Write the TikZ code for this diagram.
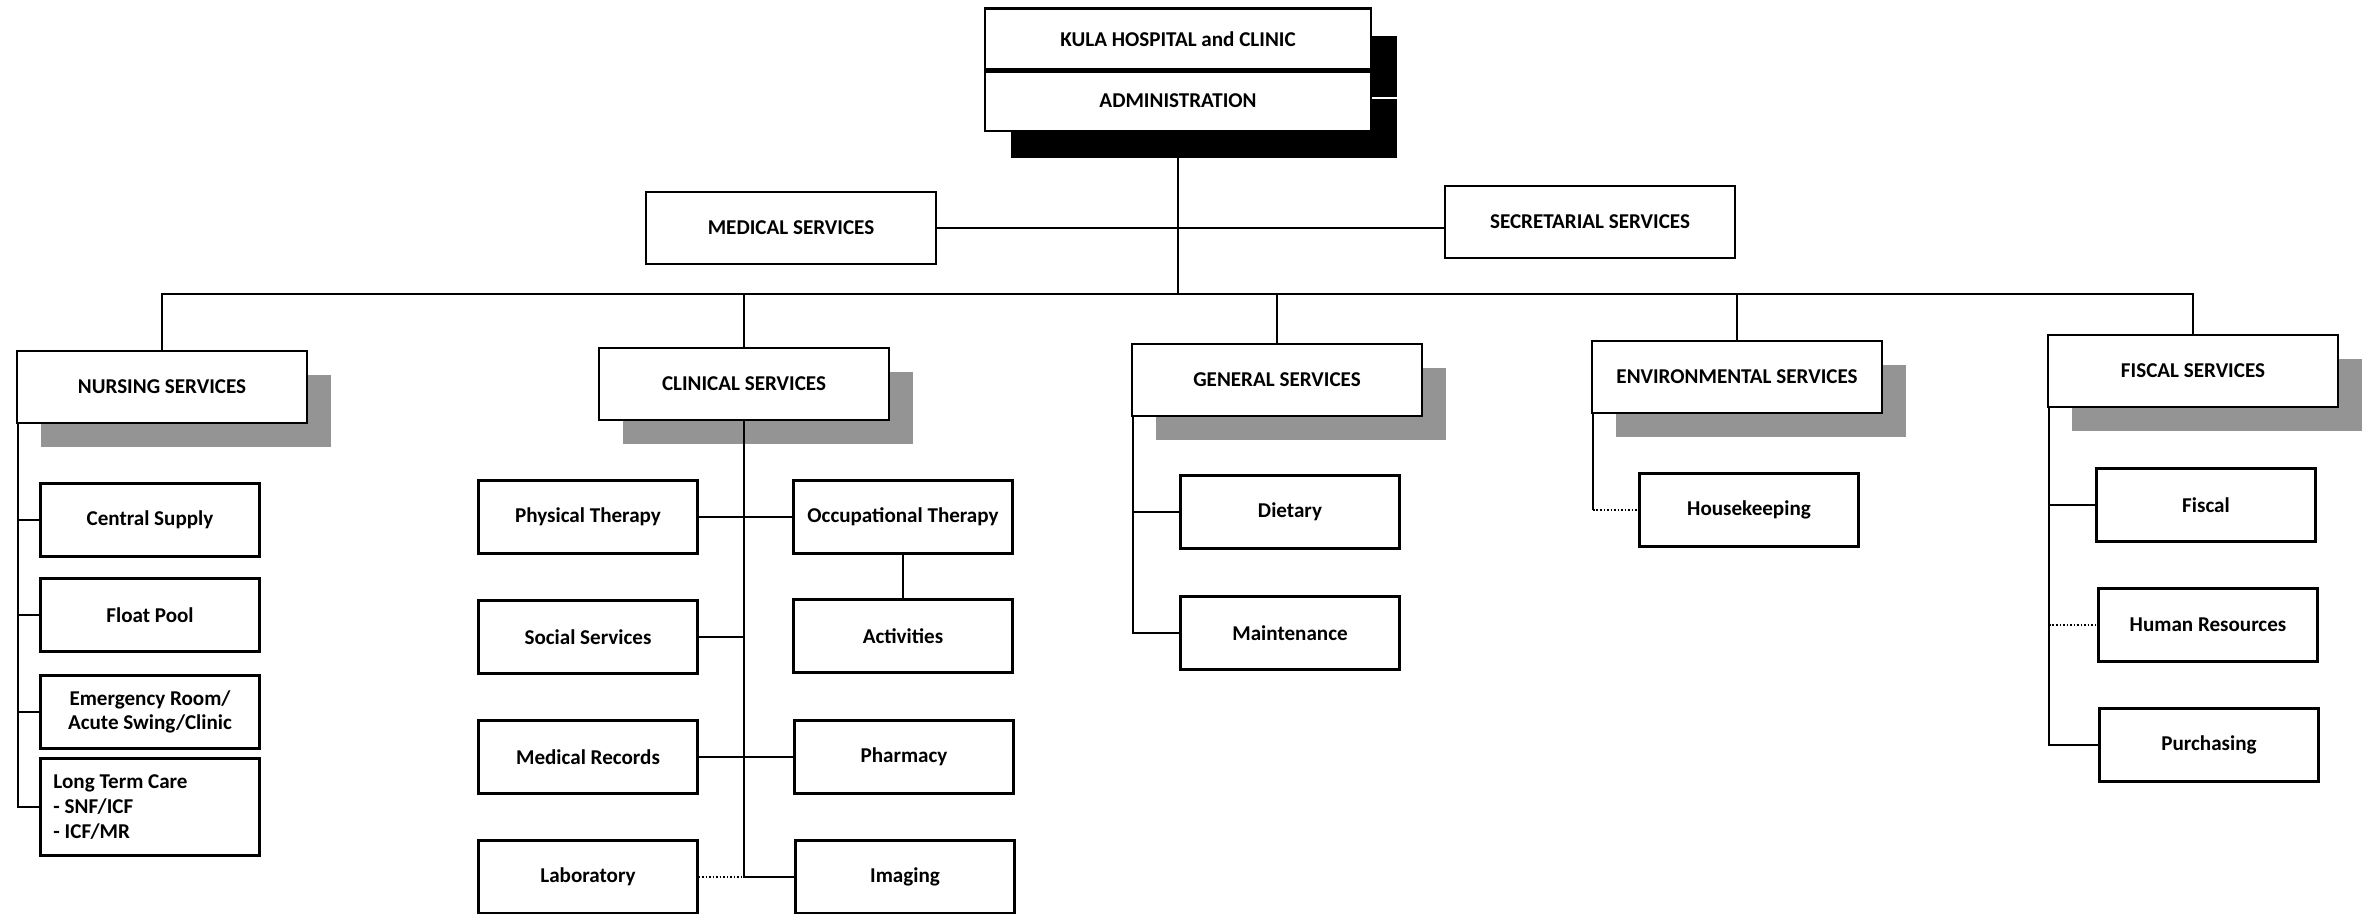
\documentclass[tikz,border=0pt]{standalone}
\usepackage{fontspec}
\setmainfont{Carlito}
\usetikzlibrary{positioning,shadows}

\tikzset{
  box/.style={draw,line width=1.2pt,fill=white,align=center,inner sep=2pt,
    font=\bfseries\fontsize{12}{14}\selectfont},
  headbox/.style={box,minimum width=77.2mm,minimum height=12.2mm,
    general shadow={fill=black,shadow xshift=5.2mm,shadow yshift=-5.4mm}},
  topbox/.style={box,minimum width=58mm,minimum height=14.4mm},
  deptbox/.style={topbox,
    general shadow={fill=black!42,shadow xshift=4.8mm,shadow yshift=-4.8mm}},
  unitbox/.style={box,minimum width=43.8mm,minimum height=14.6mm},
  link/.style={line width=1pt},
  dotlink/.style={line width=1pt,densely dotted}
}

\begin{document}
\begin{tikzpicture}[x=0.2mm,y=-0.2mm]
  \path[use as bounding box,fill=white] (0,0) rectangle (2368,913);

  \node[headbox] (hosp) at (1178,39) {KULA HOSPITAL and CLINIC};
  \node[headbox,minimum height=11.8mm,below=0pt of hosp] (admin) {ADMINISTRATION};

  \node[topbox] (medical) at (791,228) {MEDICAL SERVICES};
  \node[topbox] (secretarial) at (1590,222) {SECRETARIAL SERVICES};
  \coordinate (bus) at (1178,294);

  \node[deptbox] (nursing) at (162,387) {NURSING SERVICES};
  \node[deptbox] (clinical) at (744,384) {CLINICAL SERVICES};
  \node[deptbox] (general) at (1277,380) {GENERAL SERVICES};
  \node[deptbox] (environmental) at (1737,377) {ENVIRONMENTAL SERVICES};
  \node[deptbox] (fiscal) at (2193,371) {FISCAL SERVICES};

  \node[unitbox] (centralsupply) at (150,520) {Central Supply};
  \node[unitbox] (floatpool) at (150,615) {Float Pool};
  \node[unitbox] (emergency) at (150,712) {Emergency Room/\\Acute Swing/Clinic};
  \node[unitbox,minimum height=19.4mm,inner xsep=2.6mm,text width=38.6mm,align=flush left]
    (longterm) at (150,807) {Long Term Care\\- SNF/ICF\\- ICF/MR};

  \node[unitbox] (physical) at (588,517) {Physical Therapy};
  \node[unitbox] (occupational) at (903,517) {Occupational Therapy};
  \node[unitbox] (social) at (588,637) {Social Services};
  \node[unitbox] (activities) at (903,636) {Activities};
  \node[unitbox] (records) at (588,757) {Medical Records};
  \node[unitbox] (pharmacy) at (904,757) {Pharmacy};
  \node[unitbox] (laboratory) at (588,877) {Laboratory};
  \node[unitbox] (imaging) at (905,877) {Imaging};

  \node[unitbox] (dietary) at (1290,512) {Dietary};
  \node[unitbox] (maintenance) at (1290,633) {Maintenance};
  \node[unitbox] (housekeeping) at (1749,510) {Housekeeping};
  \node[unitbox] (fiscalunit) at (2206,505) {Fiscal};
  \node[unitbox] (humanres) at (2208,625) {Human Resources};
  \node[unitbox] (purchasing) at (2209,745) {Purchasing};

  \draw[link] (admin.south) -- (bus);
  \draw[link] (medical.east) -- (medical.east -| secretarial.west);
  \draw[link] (nursing.north) -- (nursing.north |- bus) -| (fiscal.north);
  \foreach \d in {clinical,general,environmental}
    \draw[link] (\d.north) -- (\d.north |- bus);

  \coordinate (nspine) at ([xshift=0.4mm]nursing.south west);
  \draw[link] (nspine) |- (longterm.west);
  \foreach \u in {centralsupply,floatpool,emergency}
    \draw[link] (nspine |- \u.west) -- (\u.west);

  \draw[link] (clinical.south) -- (clinical.south |- imaging.west) -- (imaging.west);
  \draw[link] (physical.east) -- (occupational.west);
  \draw[link] (occupational.south) -- (activities.north);
  \draw[link] (social.east) -- (social.east -| clinical.south);
  \draw[link] (records.east) -- (pharmacy.west);
  \draw[dotlink] (laboratory.east) -- (laboratory.east -| clinical.south);

  \coordinate (gspine) at ([xshift=0.4mm]general.south west);
  \draw[link] (gspine) |- (maintenance.west);
  \draw[link] (gspine |- dietary.west) -- (dietary.west);

  \coordinate (espine) at ([xshift=0.4mm]environmental.south west);
  \draw[link] (espine) -- (espine |- housekeeping.west);
  \draw[dotlink] (espine |- housekeeping.west) -- (housekeeping.west);

  \coordinate (fspine) at ([xshift=0.4mm]fiscal.south west);
  \draw[link] (fspine) |- (purchasing.west);
  \draw[link] (fspine |- fiscalunit.west) -- (fiscalunit.west);
  \draw[dotlink] (fspine |- humanres.west) -- (humanres.west);
\end{tikzpicture}
\end{document}
